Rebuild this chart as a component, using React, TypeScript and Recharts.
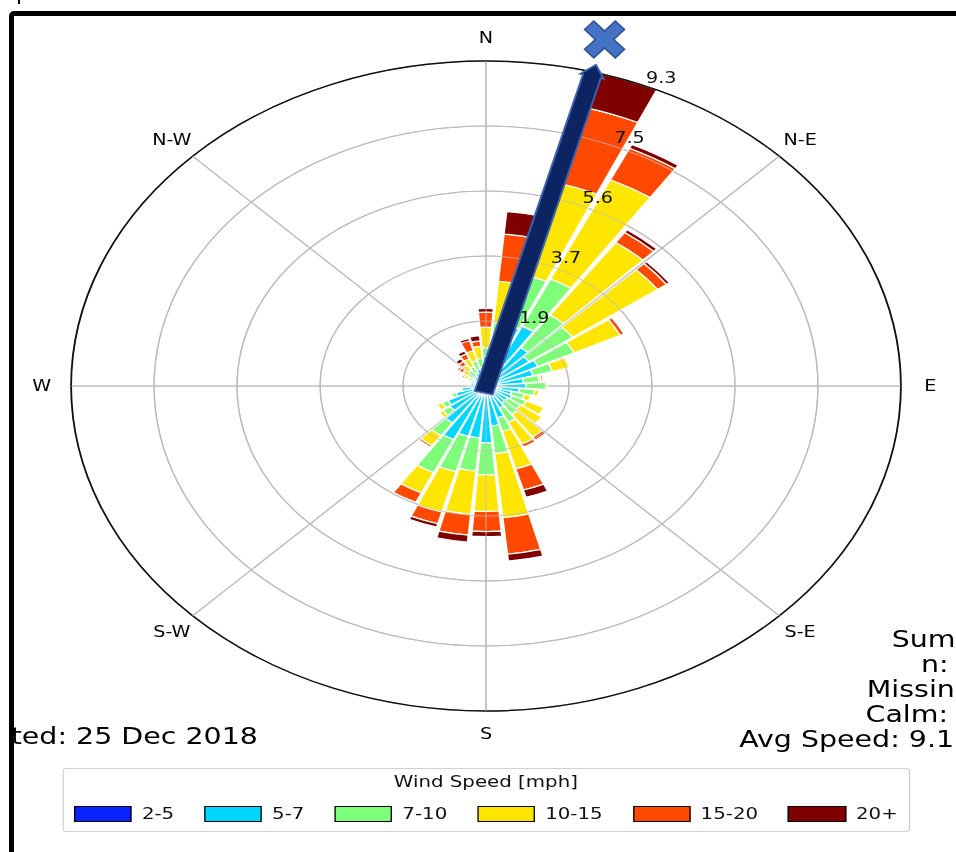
import React from 'react';
import { RadialBarChart, RadialBar, PolarAngleAxis, PolarRadiusAxis, PolarGrid } from 'recharts';

// wind direction sectors, degrees clockwise from north
const directions = ['0', '10', '20', '30', '40', '50', '60', '70', '80', '90', '100', '110',
  '120', '130', '140', '150', '160', '170', '180', '190', '200', '210', '220', '230',
  '240', '250', '260', '270', '280', '290', '300', '310', '320', '330', '340', '350'];

const speedBins = ['2-5', '5-7', '7-10', '10-15', '15-20', '20+'];
const binColors = ['#0a24ff', '#00d6ff', '#7dff7a', '#ffe600', '#ff4800', '#800000'];

// frequency (%) per sector for each speed bin
const speed2to5 = [0.2, 0.2, 0.25, 0.3, 0.25, 0.2, 0.2, 0.15, 0.1, 0.1, 0.1, 0.1,
  0.1, 0.1, 0.1, 0.15, 0.2, 0.2, 0.3, 0.3, 0.3, 0.3, 0.2, 0.2,
  0.2, 0.15, 0.15, 0.1, 0.1, 0.1, 0.1, 0.1, 0.1, 0.12, 0.15, 0.15];
const speed5to7 = [0.65, 0.9, 1.55, 1.6, 1.1, 1.0, 1.1, 0.95, 0.75, 0.8, 0.65, 0.5,
  0.55, 0.5, 0.5, 0.55, 0.75, 0.95, 1.33, 1.2, 1.2, 1.4, 1.1, 0.8,
  0.75, 0.55, 0.4, 0.3, 0.25, 0.25, 0.25, 0.25, 0.25, 0.3, 0.35, 0.4];
const speed7to10 = [0.25, 0.73, 1.5, 1.5, 1.15, 1.2, 0.9, 0.45, 0.35, 0.45, 0.35, 0.3,
  0.35, 0.35, 0.4, 0.45, 0.4, 0.8, 0.92, 0.95, 1.05, 1.05, 0.45, 0.2,
  0.15, 0.1, 0.05, 0, 0.05, 0.05, 0.1, 0.15, 0.2, 0.2, 0.25, 0.25];
const speed10to15 = [0.59, 1.19, 2.75, 3.15, 2.55, 2.35, 1.15, 0.4, 0.05, 0.05, 0.1, 0.15,
  0.45, 0.6, 0.8, 0.7, 1.12, 1.85, 1.05, 1.25, 1.2, 0.65, 0.35, 0.1,
  0.12, 0.05, 0, 0, 0, 0.05, 0.1, 0.15, 0.2, 0.25, 0.3, 0.35];
const speed15to20 = [0.43, 1.36, 2.25, 1.0, 0.35, 0.25, 0.1, 0, 0.05, 0, 0, 0,
  0, 0, 0.12, 0.1, 0.63, 1.05, 0.58, 0.6, 0.35, 0.3, 0.06, 0,
  0, 0, 0, 0, 0, 0, 0.05, 0.1, 0.12, 0.15, 0.3, 0.15];
const speed20plus = [0.11, 0.65, 1.03, 0.12, 0.1, 0.08, 0, 0, 0, 0, 0, 0,
  0, 0, 0, 0, 0.22, 0.2, 0.14, 0.2, 0.1, 0, 0, 0,
  0, 0, 0, 0, 0, 0, 0, 0.05, 0.1, 0.1, 0.07, 0.15];

const radialTicks = [1.866, 3.732, 5.598, 7.464, 9.33];
const compassAngles = [0, 45, 90, 135, 180, 225, 270, 315];
const compassLabels = ['N', 'N-E', 'E', 'S-E', 'S', 'S-W', 'W', 'N-W'];

// mean wind direction arrow
const meanDirection = 15;
const meanArrowLength = 9.55;
const meanMarkerRadius = 10.3;

const dateText = 'ted: 25 Dec 2018';
const summaryLines = ['Summ', 'n:', 'Missin', 'Calm:', 'Avg Speed: 9.1'];
const summaryLeft = [698.5, 721.5, 679, 678, 579];

const legendTitle = 'Wind Speed [mph]';

const seriesValues = [speed2to5, speed5to7, speed7to10, speed10to15, speed15to20, speed20plus];
const data = directions.map((dir, i) => {
  const row: Record<string, string | number> = { dir };
  seriesValues.forEach((arr, k) => { row[`b${k}`] = arr[i]; });
  return row;
});

const STRETCH = 1.2766;
const W = 749;
const H = 852;
const CX = 380.7;
const CY = 386;
const R = 325;
const LABEL_R = 348;
const R_MAX = radialTicks[radialTicks.length - 1];
const FONT = "'DejaVu Sans', sans-serif";

const toXY = (px: number, deg: number, off = 0) => {
  const t = (deg * Math.PI) / 180;
  return [CX + px * Math.sin(t) + off * Math.cos(t), CY - px * Math.cos(t) + off * Math.sin(t)];
};
const valToPx = (v: number) => (v / R_MAX) * R;

const RadialTick = (props: any) => {
  const { x, y, payload } = props;
  return (
    <text x={x + 1} y={y - 3} textAnchor="start" fontSize={15} fill="#111" fontFamily={FONT}>
      {Number(payload.value).toFixed(1)}
    </text>
  );
};

function Overlay() {
  const hw = 7.2;
  const hh = 9.5;
  const hl = 12;
  const tipR = valToPx(meanArrowLength);
  const backR = -7;
  const pts = [
    toXY(backR, meanDirection, -hw),
    toXY(tipR - hl, meanDirection, -hw),
    toXY(tipR - hl, meanDirection, -hh),
    toXY(tipR, meanDirection, 0),
    toXY(tipR - hl, meanDirection, hh),
    toXY(tipR - hl, meanDirection, hw),
    toXY(backR, meanDirection, hw),
  ];
  const [mx, my] = toXY(valToPx(meanMarkerRadius), meanDirection);
  const a = 6;
  const L = 20;
  const cross = [[-a, -L], [a, -L], [a, -a], [L, -a], [L, a], [a, a], [a, L], [-a, L], [-a, a], [-L, a], [-L, -a], [-a, -a]];
  return (
    <svg width={W} height={H} style={{ position: 'absolute', left: 0, top: 0, pointerEvents: 'none' }}>
      {/* grid drawn again above the bars, as in the source figure */}
      <g stroke="#bdbdbd" strokeOpacity={0.7} strokeWidth={1} fill="none">
        {radialTicks.slice(0, -1).map((t) => (
          <circle key={t} cx={CX} cy={CY} r={valToPx(t)} />
        ))}
        {compassAngles.map((deg) => {
          const [x, y] = toXY(R, deg);
          return <line key={deg} x1={CX} y1={CY} x2={x} y2={y} />;
        })}
      </g>
      {compassAngles.map((deg, i) => {
        const [x, y] = toXY(LABEL_R, deg);
        return (
          <text key={deg} x={x} y={y} textAnchor="middle" dominantBaseline="central" fontSize={15} fill="#000" fontFamily={FONT}>
            {compassLabels[i]}
          </text>
        );
      })}
      <polygon points={pts.map((p) => p.join(',')).join(' ')} fill="#0c2461" stroke="#3d62ad" strokeWidth={1.6} />
      <polygon
        points={cross.map((p) => p.join(',')).join(' ')}
        transform={`translate(${mx},${my}) scale(0.85,1) rotate(45)`}
        fill="#4472c4"
        stroke="#2f528f"
        strokeWidth={1.5}
      />
    </svg>
  );
}

export default function App() {
  const gridAngles = compassAngles.map((d) => 90 - d);
  return (
    <div style={{ position: 'absolute', left: 0, top: 0, width: 956, height: 852, overflow: 'hidden', background: '#fff', fontFamily: FONT }}>
      <div style={{ position: 'absolute', left: 0, top: 0, width: W, height: H, transform: `scaleX(${STRETCH})`, transformOrigin: '0 0' }}>
        <RadialBarChart
          width={W}
          height={H}
          cx={CX}
          cy={CY}
          innerRadius={0}
          outerRadius={R}
          startAngle={85}
          endAngle={-275}
          layout="centric"
          data={data}
          barCategoryGap="7%"
          margin={{ top: 0, right: 0, bottom: 0, left: 0 }}
        >
          <PolarGrid gridType="circle" polarAngles={gridAngles} stroke="#b3b3b3" strokeWidth={1} />
          <PolarAngleAxis
            dataKey="dir"
            type="category"
            tick={false}
            tickLine={false}
            axisLineType="circle"
            axisLine={{ stroke: '#111', strokeWidth: 1.4 }}
          />
          <PolarRadiusAxis
            type="number"
            domain={[0, R_MAX]}
            ticks={radialTicks}
            angle={67.5}
            axisLine={false}
            tickLine={false}
            tick={<RadialTick />}
          />
          {speedBins.map((bin, k) => (
            <RadialBar
              key={bin}
              dataKey={`b${k}`}
              name={bin}
              stackId="speed"
              fill={binColors[k]}
              stroke="#fff"
              strokeWidth={1.2}
              isAnimationActive={false}
            />
          ))}
        </RadialBarChart>
        <Overlay />

        <div style={{ position: 'absolute', right: W - 202, top: 724, fontSize: 22.3, lineHeight: '25px', whiteSpace: 'nowrap', color: '#000' }}>
          {dateText}
        </div>
        {summaryLines.map((line, i) => (
          <div key={line} style={{ position: 'absolute', left: summaryLeft[i], top: 626.5 + 25 * i, fontSize: 22.3, lineHeight: '25px', whiteSpace: 'nowrap', color: '#000' }}>
            {line}
          </div>
        ))}

        <div style={{ position: 'absolute', left: 48.6, top: 768, width: 664, height: 64, boxSizing: 'border-box', border: '1px solid #d0d0d0', borderRadius: 3, background: '#fff' }}>
          <div style={{ position: 'absolute', left: 0, right: 0, top: 6, textAlign: 'center', fontSize: 15.5, lineHeight: '15.5px', color: '#111' }}>
            {legendTitle}
          </div>
          <div style={{ position: 'absolute', left: 0, right: 0, top: 37, height: 16, display: 'flex', justifyContent: 'center', alignItems: 'center', gap: 23.5 }}>
            {speedBins.map((bin, k) => (
              <div key={bin} style={{ display: 'flex', alignItems: 'center', gap: 7.8 }}>
                <div style={{ width: 45.4, height: 16, boxSizing: 'border-box', background: binColors[k], border: '1px solid #000' }} />
                <span style={{ fontSize: 15.5, lineHeight: '16px', color: '#111' }}>{bin}</span>
              </div>
            ))}
          </div>
        </div>
      </div>

      <div style={{ position: 'absolute', left: 9, top: 11, width: 1000, height: 900, boxSizing: 'border-box', border: '5.5px solid #000', borderTopLeftRadius: 5, pointerEvents: 'none' }} />
      <div style={{ position: 'absolute', left: 18, top: 0, width: 2, height: 4, background: '#000' }} />
    </div>
  );
}
